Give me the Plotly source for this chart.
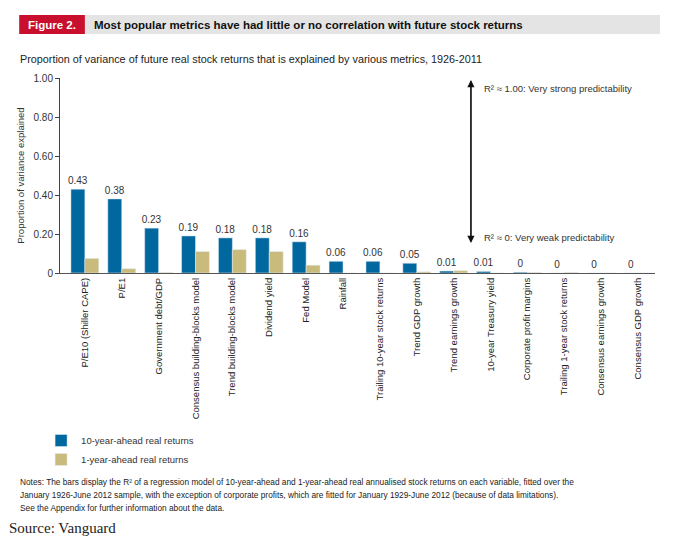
import plotly.graph_objects as go

# data (R-squared, 1926-2011)
metrics = ["P/E10 (Shiller CAPE)", "P/E1", "Government debt/GDP",
           "Consensus building-blocks model", "Trend building-blocks model",
           "Dividend yield", "Fed Model", "Rainfall",
           "Trailing 10-year stock returns", "Trend GDP growth",
           "Trend earnings growth", "10-year Treasury yield",
           "Corporate profit margins", "Trailing 1-year stock returns",
           "Consensus earnings growth", "Consensus GDP growth"]
ten_year = [0.43, 0.38, 0.23, 0.19, 0.18, 0.18, 0.16, 0.06,
            0.06, 0.05, 0.01, 0.008, 0.004, 0, 0, 0]
ten_year_labels = ["0.43", "0.38", "0.23", "0.19", "0.18", "0.18", "0.16", "0.06",
                   "0.06", "0.05", "0.01", "0.01", "0", "0", "0", "0"]
one_year = [0.075, 0.022, 0.003, 0.11, 0.12, 0.11, 0.04, 0,
            0, 0.006, 0.012, 0, 0.003, 0.003, 0, 0]
yticks = [0, 0.2, 0.4, 0.6, 0.8, 1.0]
ytick_text = ["0", "0.20", "0.40", "0.60", "0.80", "1.00"]

W, H = 695, 554
OFF = 8  # page body margin of the html output
L, R, T, B = 57 - OFF, 40 + OFF, 78 - OFF, 281 + OFF
PW, PH = W - L - R, H - T - B
FONT = "Liberation Sans, Arial, sans-serif"
BLUE = "#00679F"
TAN = "#C8BB7C"


def px(x):  # reference pixel -> paper x
    return (x - 57) / PW


def py(y):  # reference pixel -> paper y
    return (273 - y) / PH


fig = go.Figure()
fig.add_trace(go.Bar(x=metrics, y=ten_year, name="10-year-ahead real returns",
                     marker_color=BLUE, text=ten_year_labels,
                     textposition="outside", cliponaxis=False, constraintext="none",
                     textfont=dict(size=10, color="#333")))
fig.add_trace(go.Bar(x=metrics, y=one_year, name="1-year-ahead real returns",
                     marker_color=TAN))

fig.update_layout(
    width=W, height=H,
    margin=dict(l=L, r=R, t=T, b=B),
    plot_bgcolor="white", paper_bgcolor="white",
    font=dict(family=FONT, color="#222"),
    barmode="group", bargap=0.245, bargroupgap=0,
    showlegend=True,
    legend=dict(x=px(38), y=py(426), xanchor="left", yanchor="top",
                font=dict(size=9.5, color="#333"), tracegroupgap=0,
                bgcolor="rgba(0,0,0,0)"),
)
fig.update_xaxes(range=[-0.674, 15.46], tickangle=-90, showline=True,
                 linecolor="#555", linewidth=1, ticks="",
                 tickfont=dict(size=9.5, color="#222"))
fig.update_yaxes(range=[0, 1.0], tickvals=yticks, ticktext=ytick_text,
                 showline=True, linecolor="#444", linewidth=1, ticks="outside",
                 ticklen=4, tickcolor="#444", showgrid=False, zeroline=False,
                 tickfont=dict(size=10, color="#333"),
                 title=dict(text="Proportion of variance explained",
                            font=dict(size=9.5, color="#333"), standoff=7))

# header band
fig.add_shape(type="rect", xref="paper", yref="paper", x0=px(82), x1=px(660),
              y0=py(34), y1=py(15), fillcolor="#E4E4E4", line_width=0, layer="below")
fig.add_shape(type="rect", xref="paper", yref="paper", x0=px(16), x1=px(82),
              y0=py(34), y1=py(15), fillcolor="#C8102E", line_width=0, layer="below")
fig.add_annotation(xref="paper", yref="paper", x=px(49), y=py(24.5), text="<b>Figure 2.</b>",
                   showarrow=False, xanchor="center", yanchor="middle",
                   font=dict(size=11.5, color="white"))
fig.add_annotation(xref="paper", yref="paper", x=px(89), y=py(24.5),
                   text="<b>Most popular metrics have had little or no correlation with future stock returns</b>",
                   showarrow=False, xanchor="left", yanchor="middle",
                   font=dict(size=11.5, color="#111"))
fig.add_annotation(xref="paper", yref="paper", x=px(15), y=py(59),
                   text="Proportion of variance of future real stock returns that is explained by various metrics, 1926-2011",
                   showarrow=False, xanchor="left", yanchor="middle",
                   font=dict(size=10.8, color="#222"))

# predictability arrow
ax_x = px(470)
fig.add_annotation(xref="paper", yref="y", x=ax_x, y=0.99, ax=0, ay=0.154,
                   ayref="y", axref="pixel", text="", showarrow=True,
                   arrowhead=2, arrowsize=1.2, arrowwidth=1.2, arrowcolor="#111", standoff=0)
fig.add_annotation(xref="paper", yref="y", x=ax_x, y=0.154, ax=0, ay=0.99,
                   ayref="y", axref="pixel", text="", showarrow=True,
                   arrowhead=2, arrowsize=1.2, arrowwidth=1.2, arrowcolor="#111", standoff=0)
fig.add_annotation(xref="paper", yref="paper", x=px(481), y=py(88),
                   text="R² ≈ 1.00: Very strong predictability", showarrow=False,
                   xanchor="left", yanchor="middle", font=dict(size=9.5, color="#333"))
fig.add_annotation(xref="paper", yref="paper", x=px(481), y=py(237),
                   text="R² ≈ 0: Very weak predictability", showarrow=False,
                   xanchor="left", yanchor="middle", font=dict(size=9.5, color="#333"))

# notes and source
notes = ["Notes: The bars display the R² of a regression model of 10-year-ahead and 1-year-ahead real annualised stock returns on each variable, fitted over the",
         "January 1926-June 2012 sample, with the exception of corporate profits, which are fitted for January 1929-June 2012 (because of data limitations).",
         "See the Appendix for further information about the data."]
for i, line in enumerate(notes):
    fig.add_annotation(xref="paper", yref="paper", x=px(15), y=py(482 + 13 * i),
                       text=line, showarrow=False, xanchor="left", yanchor="middle",
                       font=dict(size=8.3, color="#222"))
fig.add_annotation(xref="paper", yref="paper", x=px(4), y=py(528),
                   text="Source: Vanguard", showarrow=False, xanchor="left",
                   yanchor="middle", font=dict(size=15, color="#222",
                                               family="Liberation Serif, DejaVu Serif, serif"))

fig.write_html("out.html")
